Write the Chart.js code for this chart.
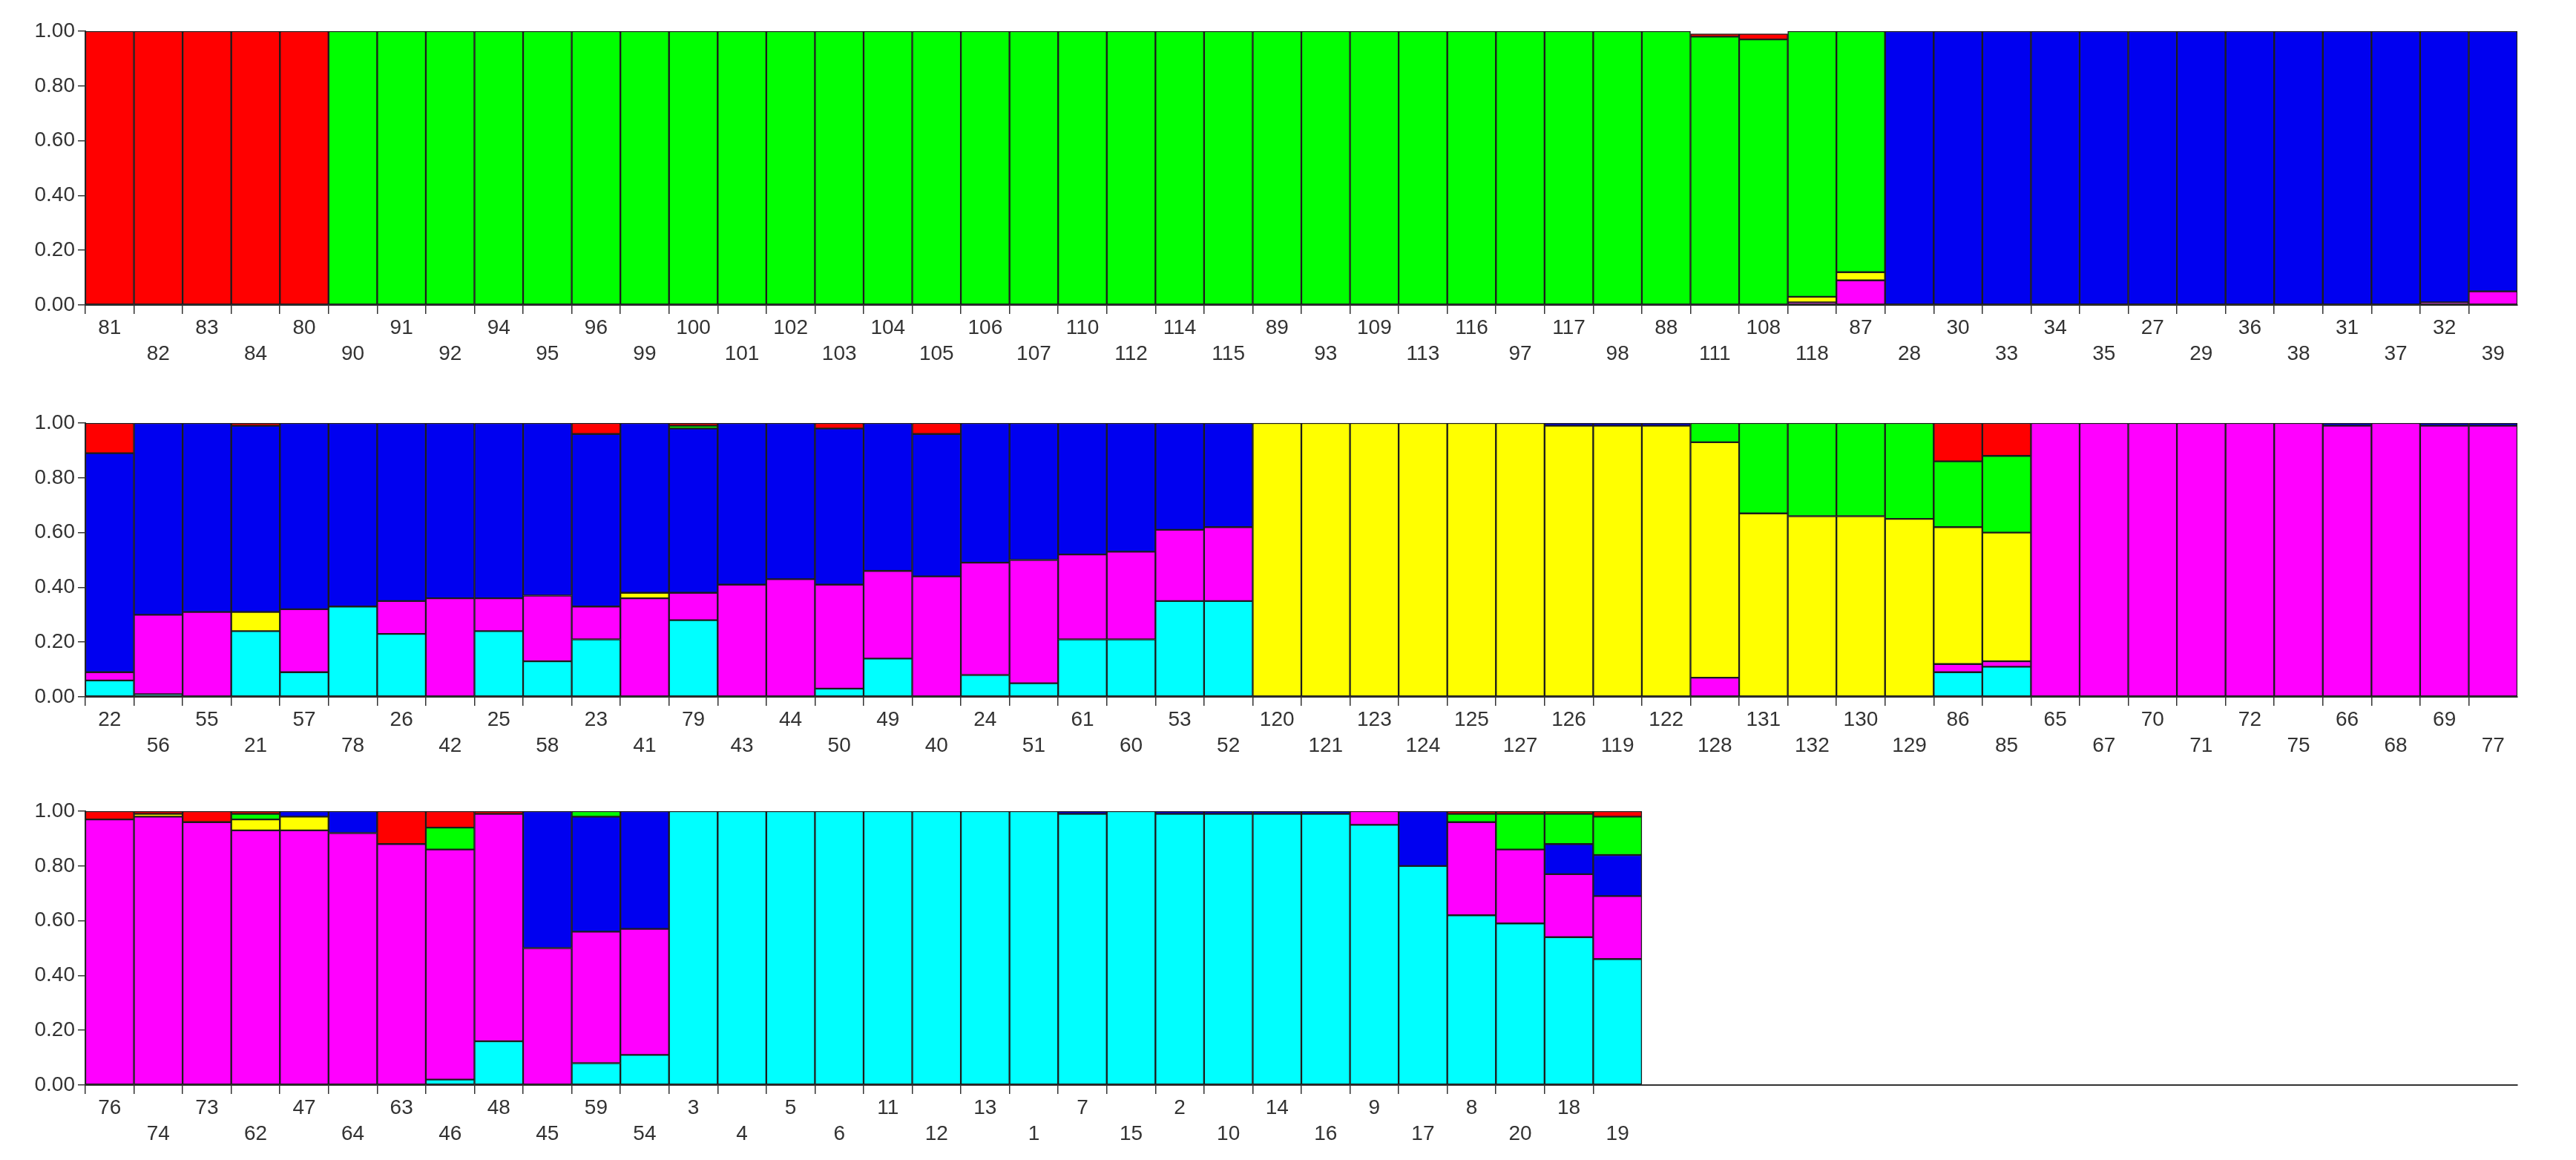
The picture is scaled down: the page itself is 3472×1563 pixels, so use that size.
<!DOCTYPE html>
<html><head><meta charset="utf-8">
<script src="https://cdn.jsdelivr.net/npm/chart.js@4/dist/chart.umd.min.js"></script>
<style>
html,body{margin:0;padding:0;background:#fff;}
.row{position:absolute;left:0;width:3472px;height:525px;}
</style></head><body>
<div class="row" style="top:0px"><canvas id="c1"></canvas></div>
<div class="row" style="top:528px"><canvas id="c2"></canvas></div>
<div class="row" style="top:1051px"><canvas id="c3"></canvas></div>
<script>
const r1Labels=['81','82','83','84','80','90','91','92','94','95','96','99','100','101','102','103','104','105','106','107','110','112','114','115','89','93','109','113','116','97','117','98','88','111','108','118','87','28','30','33','34','35','27','29','36','38','31','37','32','39'];
const r1Cyan=new Array(50).fill(0);
const r1Magenta=[0,0,0,0,0, 0,0,0,0,0,0,0,0,0,0,0,0,0,0,0,0,0,0,0,0,0,0,0,0,0,0,0,0,0,0,.01,.09, 0,0,0,0,0,0,0,0,0,0,0,.01,.05];
const r1Yellow=[0,0,0,0,0, 0,0,0,0,0,0,0,0,0,0,0,0,0,0,0,0,0,0,0,0,0,0,0,0,0,0,0,0,0,0,.02,.03, 0,0,0,0,0,0,0,0,0,0,0,0,0];
const r1Blue=[0,0,0,0,0, 0,0,0,0,0,0,0,0,0,0,0,0,0,0,0,0,0,0,0,0,0,0,0,0,0,0,0,0,0,0,0,0, 1,1,1,1,1,1,1,1,1,1,1,.99,.95];
const r1Green=[0,0,0,0,0, 1,1,1,1,1,1,1,1,1,1,1,1,1,1,1,1,1,1,1,1,1,1,1,1,1,1,1,1,.98,.97,.97,.88, 0,0,0,0,0,0,0,0,0,0,0,0,0];
const r1Red=[1,1,1,1,1, 0,0,0,0,0,0,0,0,0,0,0,0,0,0,0,0,0,0,0,0,0,0,0,0,0,0,0,0,.01,.02,0,0, 0,0,0,0,0,0,0,0,0,0,0,0,0];

const r2Labels=['22','56','55','21','57','78','26','42','25','58','23','41','79','43','44','50','49','40','24','51','61','60','53','52','120','121','123','124','125','127','126','119','122','128','131','132','130','129','86','85','65','67','70','71','72','75','66','68','69','77'];
const r2Cyan=[.06,.01,0,.24,.09,.33,.23,0,.24,.13,.21,0,.28,0,0,.03,.14,0,.08,.05,.21,.21,.35,.35, 0,0,0,0,0,0,0,0,0,0,0,0,0,0,.09,.11, 0,0,0,0,0,0,0,0,0,0];
const r2Magenta=[.03,.29,.31,0,.23,0,.12,.36,.12,.24,.12,.36,.10,.41,.43,.38,.32,.44,.41,.45,.31,.32,.26,.27, 0,0,0,0,0,0,0,0,0,.07,0,0,0,0,.03,.02, 1,1,1,1,1,1,.99,1,.99,.99];
const r2Yellow=[0,0,0,.07,0,0,0,0,0,0,0,.02,0,0,0,0,0,0,0,0,0,0,0,0, 1,1,1,1,1,1,.99,.99,.99,.86,.67,.66,.66,.65,.50,.47, 0,0,0,0,0,0,0,0,0,0];
const r2Blue=[.80,.70,.69,.68,.68,.67,.65,.64,.64,.63,.63,.62,.60,.59,.57,.57,.54,.52,.51,.50,.48,.47,.39,.38, 0,0,0,0,0,0,.01,.01,.01,0,0,0,0,0,0,0, 0,0,0,0,0,0,.01,0,.01,.01];
const r2Green=[0,0,0,0,0,0,0,0,0,0,0,0,.01,0,0,0,0,0,0,0,0,0,0,0, 0,0,0,0,0,0,0,0,0,.07,.33,.34,.34,.35,.24,.28, 0,0,0,0,0,0,0,0,0,0];
const r2Red=[.11,0,0,.01,0,0,0,0,0,0,.04,0,.01,0,0,.02,0,.04,0,0,0,0,0,0, 0,0,0,0,0,0,0,0,0,0,0,0,0,0,.14,.12, 0,0,0,0,0,0,0,0,0,0];

const r3Labels=['76','74','73','62','47','64','63','46','48','45','59','54','3','4','5','6','11','12','13','1','7','15','2','10','14','16','9','17','8','20','18','19'];
const r3Cyan=[0,0,0,0,0,0,0,.02,.16,0,.08,.11,1,1,1,1,1,1,1,1,.99,1,.99,.99,.99,.99,.95,.80,.62,.59,.54,.46];
const r3Magenta=[.97,.98,.96,.93,.93,.92,.88,.84,.83,.50,.48,.46,0,0,0,0,0,0,0,0,0,0,0,0,0,0,.05,0,.34,.27,.23,.23];
const r3Yellow=[0,.01,0,.04,.05,0,0,0,0,0,0,0,0,0,0,0,0,0,0,0,0,0,0,0,0,0,0,0,0,0,0,0];
const r3Blue=[0,0,0,0,.02,.08,0,0,0,.50,.42,.43,0,0,0,0,0,0,0,0,.01,0,.01,.01,.01,.01,0,.20,0,0,.11,.15];
const r3Green=[0,0,0,.02,0,0,0,.08,0,0,.02,0,0,0,0,0,0,0,0,0,0,0,0,0,0,0,0,0,.03,.13,.11,.14];
const r3Red=[.03,.01,.04,.01,0,0,.12,.06,.01,0,0,0,0,0,0,0,0,0,0,0,0,0,0,0,0,0,0,0,.01,.01,.01,.02];

const colors=['#00ffff','#ff00ff','#ffff00','#0000f0','#00ff00','#ff0000'];
const FONT='"Liberation Sans Narrow","Liberation Sans",Arial,sans-serif';
const TOTAL=50;

function makeChart(id,labels,series){
  const n=labels.length;
  const labs=labels.concat(new Array(TOTAL-n).fill(''));
  const datasets=series.map((s,k)=>({
    data:s.map(v=>v>0?v:null).concat(new Array(TOTAL-n).fill(null)),
    backgroundColor:colors[k],borderColor:'#1c1c1c',borderWidth:1.5,borderSkipped:false,
    categoryPercentage:1,barPercentage:1
  }));
  new Chart(document.getElementById(id),{
    type:'bar',
    data:{labels:labs,datasets},
    options:{
      responsive:true,maintainAspectRatio:false,animation:false,
      devicePixelRatio:1,
      layout:{padding:{top:42,right:79,left:0,bottom:0}},
      plugins:{legend:{display:false},tooltip:{enabled:false}},
      scales:{
        x:{stacked:true,
          afterFit:a=>{a.height=114;},
          grid:{drawOnChartArea:false,tickLength:12,lineWidth:1.5,color:c=>c.index<n?'#333':'rgba(0,0,0,0)'},
          border:{display:true,color:'#333',width:2},
          ticks:{autoSkip:false,maxRotation:0,minRotation:0,padding:2,color:'#333',
            font:{family:FONT,size:28,lineHeight:1.25},
            callback:(v,i)=>labs[i]===''?'':(i%2?['',labs[i]]:labs[i])}
        },
        y:{stacked:true,min:0,max:1,
          afterFit:a=>{a.width=115;},
          grid:{drawOnChartArea:false,tickLength:10,color:'#333',lineWidth:1.5},
          border:{display:true,color:'#333',width:2},
          ticks:{stepSize:0.2,padding:4,color:'#333',font:{family:FONT,size:28},callback:v=>Number(v).toFixed(2)}
        }
      }
    }
  });
}
makeChart('c1',r1Labels,[r1Cyan,r1Magenta,r1Yellow,r1Blue,r1Green,r1Red]);
makeChart('c2',r2Labels,[r2Cyan,r2Magenta,r2Yellow,r2Blue,r2Green,r2Red]);
makeChart('c3',r3Labels,[r3Cyan,r3Magenta,r3Yellow,r3Blue,r3Green,r3Red]);
</script></body></html>
